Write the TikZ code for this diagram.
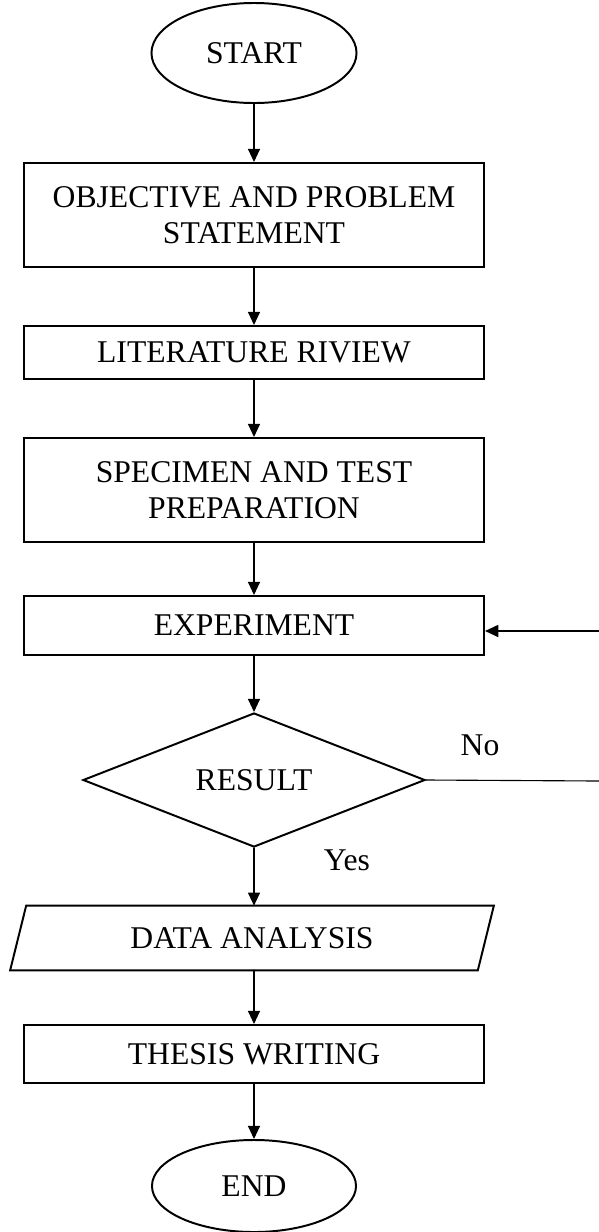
\documentclass[tikz,border=0pt]{standalone}
\usepackage{fontspec}
\setmainfont{Liberation Serif}
\usetikzlibrary{shapes.geometric,arrows.meta}

\tikzset{
  stepbox/.style={draw, line width=1.4pt, minimum width=11.5cm, align=center, inner sep=0pt},
  terminal/.style={draw, ellipse, line width=1.4pt, inner sep=0pt},
  flow/.style={-{Triangle[length=0.33cm,width=0.3cm]}, line width=1.1pt}
}

\begin{document}
\begin{tikzpicture}[x=0.025cm, y=-0.025cm, font=\fontsize{22.5}{26}\selectfont, line cap=round]
  \useasboundingbox (0,0) rectangle (599,1232);
  % terminals
  \node[terminal, minimum width=5.125cm, minimum height=2.5cm] (start) at (254,53) {START};
  \node[terminal, minimum width=5.1cm, minimum height=2.3cm] (finish) at (254,1186) {END};
  % process boxes
  \node[stepbox, minimum height=2.6cm] (objective) at (254,215) {OBJECTIVE AND PROBLEM\\STATEMENT};
  \node[stepbox, minimum height=1.325cm] (review) at (254,352.5) {LITERATURE RIVIEW};
  \node[stepbox, minimum height=2.6cm] (specimen) at (254,490) {SPECIMEN AND TEST\\PREPARATION};
  \node[stepbox, minimum height=1.475cm] (experiment) at (254,625.5) {EXPERIMENT};
  \node[stepbox, minimum height=1.45cm] (thesis) at (254,1054) {THESIS WRITING};
  % decision
  \node[draw, diamond, line width=1.4pt, aspect=2.55, inner sep=0pt, minimum width=8.55cm, minimum height=3.35cm] (result) at (254,780) {RESULT};
  % data (parallelogram drawn on the node's corners)
  \node[inner sep=0pt, minimum width=11.675cm, minimum height=1.6cm, text depth=-0.35cm] (analysis) at (252,938) {DATA ANALYSIS};
  \draw[line width=1.4pt, line join=miter]
    ([xshift=0.2cm]analysis.north west) -- ([xshift=0.2cm]analysis.north east)
    -- ([xshift=-0.2cm]analysis.south east) -- ([xshift=-0.2cm]analysis.south west) -- cycle;
  % branch labels
  \node (no) at (480,745) {No};
  \node (yes) at (347,860) {Yes};
  % main flow
  \draw[flow] (start) -- (objective);
  \draw[flow] (objective) -- (review);
  \draw[flow] (review) -- (specimen);
  \draw[flow] (specimen) -- (experiment);
  \draw[flow] (experiment) -- (result);
  \draw[flow] (result) -- (result |- analysis.north);
  \draw[flow] (result |- analysis.south) -- (thesis);
  \draw[flow] (thesis) -- (finish);
  % loop back (cut at the right edge)
  \coordinate (loopout) at (599,781);
  \coordinate (loopin) at (599,631);
  \draw[line width=0.8pt] (result.east) -- (loopout);
  \draw[flow] (loopin) -- (loopin -| experiment.east);
\end{tikzpicture}
\end{document}
